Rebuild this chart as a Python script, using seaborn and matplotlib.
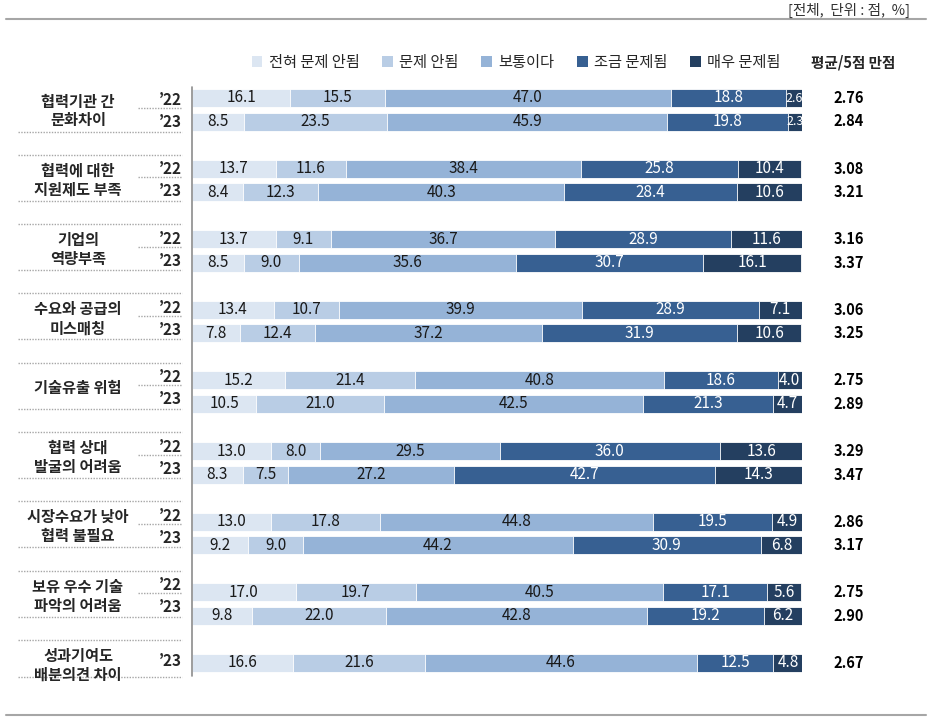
"""
Stacked horizontal bar chart: obstacles to cooperation, '22 vs '23 responses.
"""

import matplotlib

matplotlib.use("Agg")
import matplotlib.pyplot as plt
import pandas as pd
import seaborn as sns
from matplotlib.patches import Patch

# ---- data -------------------------------------------------------------
categories = ["전혀 문제 안됨", "문제 안됨", "보통이다", "조금 문제됨", "매우 문제됨"]

item_lines = [
    ["협력기관 간", "문화차이"],
    ["협력에 대한", "지원제도 부족"],
    ["기업의", "역량부족"],
    ["수요와 공급의", "미스매칭"],
    ["기술유출 위험"],
    ["협력 상대", "발굴의 어려움"],
    ["시장수요가 낮아", "협력 불필요"],
    ["보유 우수 기술", "파악의 어려움"],
    ["성과기여도", "배분의견 차이"],
]

values_22 = [
    [16.1, 15.5, 47.0, 18.8, 2.6],
    [13.7, 11.6, 38.4, 25.8, 10.4],
    [13.7, 9.1, 36.7, 28.9, 11.6],
    [13.4, 10.7, 39.9, 28.9, 7.1],
    [15.2, 21.4, 40.8, 18.6, 4.0],
    [13.0, 8.0, 29.5, 36.0, 13.6],
    [13.0, 17.8, 44.8, 19.5, 4.9],
    [17.0, 19.7, 40.5, 17.1, 5.6],
    None,
]
values_23 = [
    [8.5, 23.5, 45.9, 19.8, 2.3],
    [8.4, 12.3, 40.3, 28.4, 10.6],
    [8.5, 9.0, 35.6, 30.7, 16.1],
    [7.8, 12.4, 37.2, 31.9, 10.6],
    [10.5, 21.0, 42.5, 21.3, 4.7],
    [8.3, 7.5, 27.2, 42.7, 14.3],
    [9.2, 9.0, 44.2, 30.9, 6.8],
    [9.8, 22.0, 42.8, 19.2, 6.2],
    [16.6, 21.6, 44.6, 12.5, 4.8],
]
avg_22 = [2.76, 3.08, 3.16, 3.06, 2.75, 3.29, 2.86, 2.75, None]
avg_23 = [2.84, 3.21, 3.37, 3.25, 2.89, 3.47, 3.17, 2.90, 2.67]

# ---- style ------------------------------------------------------------
colors = ["#DCE6F2", "#B9CDE5", "#95B3D7", "#376092", "#243F60"]
text_colors = ["#1a1a1a", "#1a1a1a", "#1a1a1a", "white", "white"]

sns.set_theme(style="white")
plt.rcParams["font.family"] = ["Noto Sans CJK KR", "DejaVu Sans"]

W, H = 939, 724
BAR_LEFT, BAR_RIGHT = 192, 802
GROUP_STEP, ROW_STEP, BAR_H = 70.6, 23.5, 18
DOT = dict(color="#a6a6a6", linewidth=1.0, linestyle=(0, (1, 1)), clip_on=False)


def px(p):
    """Pixel x -> data x (percent axis)."""
    return (p - BAR_LEFT) / (BAR_RIGHT - BAR_LEFT) * 100


rows = []
for g, (v22, v23) in enumerate(zip(values_22, values_23)):
    top = 98 + GROUP_STEP * g
    if v22 is not None:
        rows.append({"item": g, "year": "22", "ypos": top, "avg": avg_22[g], **dict(zip(categories, v22))})
        rows.append({"item": g, "year": "23", "ypos": top + ROW_STEP, "avg": avg_23[g], **dict(zip(categories, v23))})
    else:
        rows.append({"item": g, "year": "23", "ypos": top, "avg": avg_23[g], **dict(zip(categories, v23))})
df = pd.DataFrame(rows)
cum = df[categories].cumsum(axis=1)

fig = plt.figure(figsize=(W / 100, H / 100), dpi=100)
ax = fig.add_axes([BAR_LEFT / W, 0, (BAR_RIGHT - BAR_LEFT) / W, 1])

# stacked bars: draw cumulative totals from the longest down
for k in range(len(categories) - 1, -1, -1):
    sns.barplot(x=cum[categories[k]], y=df["ypos"], orient="y", native_scale=True,
                color=colors[k], saturation=1, width=BAR_H / ROW_STEP, errorbar=None,
                edgecolor="white", linewidth=0.6, ax=ax)

ax.set_xlim(0, 100)
ax.set_ylim(H, 0)
ax.set_axis_off()

# segment values and averages
for i, row in df.iterrows():
    for k, cat in enumerate(categories):
        v = row[cat]
        size = 9 if v < 3 else 11
        ax.text(cum.loc[i, cat] - v / 2, row["ypos"], f"{v:.1f}", ha="center", va="center",
                fontsize=size, color=text_colors[k])
    ax.text(px(849), row["ypos"], f"{row['avg']:.2f}", ha="center", va="center",
            fontsize=10.5, fontweight="bold", color="black")

# row labels, year labels and dotted separators
for g, lines in enumerate(item_lines):
    lc = 111 + 69.3 * g
    if len(lines) == 2:
        ax.text(px(78), lc - 9.5, lines[0], ha="center", va="center", fontsize=11, fontweight="bold")
        ax.text(px(78), lc + 9.5, lines[1], ha="center", va="center", fontsize=11, fontweight="bold")
    else:
        ax.text(px(78), lc, lines[0], ha="center", va="center", fontsize=11, fontweight="bold")

    if values_22[g] is not None:
        ax.text(px(182), lc - 11, "’22", ha="right", va="center", fontsize=11, fontweight="bold")
        ax.text(px(182), lc + 11, "’23", ha="right", va="center", fontsize=11, fontweight="bold")
        ax.plot([px(138), px(182)], [lc - 3, lc - 3], **DOT)
        bottom = lc + 20.5
    else:
        ax.text(px(182), lc - 4, "’23", ha="right", va="center", fontsize=11, fontweight="bold")
        bottom = lc + 12
    if g > 0:
        ax.plot([px(18), px(182)], [lc - 25.5, lc - 25.5], **DOT)
    ax.plot([px(18), px(182)], [bottom, bottom], **DOT)

# vertical baseline and frame lines
ax.plot([0, 0], [87, 676], color="#8c8c8c", linewidth=1.2, clip_on=False)
ax.plot([px(6), px(926)], [19, 19], color="#a6a6a6", linewidth=1.5, clip_on=False)
ax.plot([px(6), px(926)], [715, 715], color="#a6a6a6", linewidth=1.5, clip_on=False)

ax.text(px(910), 10, "[전체,  단위 : 점,  %]", ha="right", va="center", fontsize=10.5, color="#333333")
ax.text(px(853), 62, "평균/5점 만점", ha="center", va="center", fontsize=10.5, fontweight="bold")

handles = [Patch(facecolor=c, edgecolor="none") for c in colors]
fig.legend(handles, categories, loc="center", bbox_to_anchor=(516 / W, 1 - 62 / H), ncol=5,
           frameon=False, fontsize=11, handlelength=0.7, handleheight=0.7,
           handletextpad=0.4, columnspacing=1.5)

fig.savefig("out.png", dpi=100)
